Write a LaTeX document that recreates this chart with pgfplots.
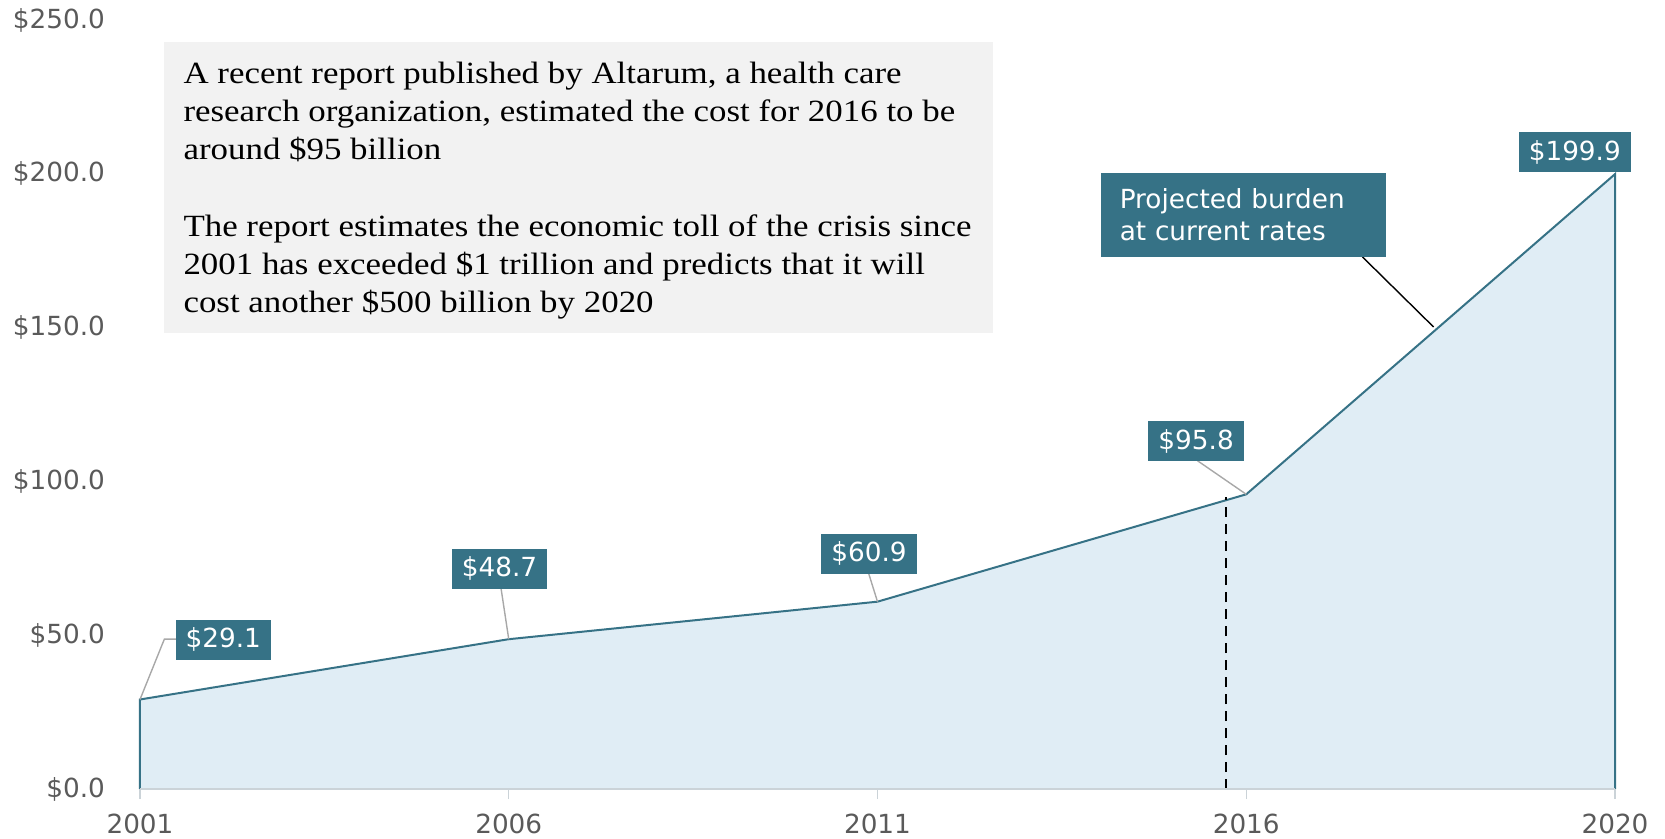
\documentclass[border=0pt]{standalone}
\usepackage{pgfplots}
\pgfplotsset{compat=1.18}
\usepackage{fontspec}
\setmainfont{DejaVu Sans}
\newfontfamily\dv{DejaVu Sans}
\newfontfamily\geo[FakeStretch=1.13]{Liberation Serif}
\definecolor{teal1}{HTML}{367286}
\definecolor{fillc}{HTML}{E0EDF5}
\definecolor{tickgray}{HTML}{5A5A5A}
\definecolor{axgray}{HTML}{CBD3D8}
\definecolor{leadgray}{HTML}{A8A8A8}
\definecolor{boxgray}{HTML}{F2F2F2}
\begin{document}
\begin{tikzpicture}
\begin{axis}[
  scale only axis, width=737.5bp, height=384.5bp,
  xmin=0, xmax=4, ymin=0, ymax=250,
  clip=false, axis on top,
  axis x line*=bottom, axis y line*=left,
  y axis line style={draw=none},
  x axis line style={draw=axgray, line width=1.2bp},
  xtick={0,1,2,3,4},
  xticklabels={2001,2006,2011,2016,2020},
  ytick={0,50,100,150,200,250},
  yticklabels={\$0.0,\$50.0,\$100.0,\$150.0,\$200.0,\$250.0},
  ytick style={draw=none},
  xtick style={draw=axgray, line width=0.6bp},
  tick align=outside,
  major tick length=5bp,
  ticklabel style={font=\dv\fontsize{13.2}{15}\selectfont, text=tickgray},
  yticklabel style={xshift=-9bp},
  xticklabel style={yshift=-4bp},
]
\addplot[draw=none, fill=fillc] coordinates {(0,29.1) (1,48.7) (2,60.9) (3,95.8) (4,199.9)} \closedcycle;
\addplot[draw=teal1, line width=1bp] coordinates {(0,0) (0,29.1) (1,48.7) (2,60.9) (3,95.8) (4,199.9) (4,0)};

% dashed line
\draw[black, line width=1bp, dash pattern=on 5bp off 3.5bp] (axis cs:2.946,0) -- (axis cs:2.946,95);

% annotation box
\fill[boxgray] (axis cs:0.066,242.7) rectangle (axis cs:2.312,148.1);
\begin{scope}[every node/.style={anchor=base west, inner sep=0pt, font=\geo\fontsize{15.5}{18}\selectfont}]
\node at (axis cs:0.117,229.5) {A recent report published by Altarum, a health care};
\node at (axis cs:0.117,217.0) {research organization, estimated the cost for 2016 to be};
\node at (axis cs:0.117,204.6) {around \$95 billion};
\node at (axis cs:0.117,179.7) {The report estimates the economic toll of the crisis since};
\node at (axis cs:0.117,167.3) {2001 has exceeded \$1 trillion and predicts that it will};
\node at (axis cs:0.117,154.9) {cost another \$500 billion by 2020};
\end{scope}

% leaders
\draw[leadgray, line width=0.7bp] (axis cs:0,29.1) -- (axis cs:0.066,48.7) -- (axis cs:0.098,48.7);
\draw[leadgray, line width=0.7bp] (axis cs:1,48.7) -- (axis cs:0.979,65.3);
\draw[leadgray, line width=0.7bp] (axis cs:2,60.9) -- (axis cs:1.976,70.1);
\draw[leadgray, line width=0.7bp] (axis cs:3,95.8) -- (axis cs:2.868,106.7);
\draw[black, line width=0.7bp] (axis cs:3.315,173.0) -- (axis cs:3.508,150.2);

\begin{scope}[every node/.style={fill=teal1, text=white, font=\dv\fontsize{13.2}{15}\selectfont, inner xsep=5bp, inner ysep=0pt, minimum height=20bp, anchor=center}]
\node at (axis cs:0.226,48.5) {\$29.1};
\node at (axis cs:0.975,71.6) {\$48.7};
\node at (axis cs:1.977,76.5) {\$60.9};
\node at (axis cs:2.864,113.1) {\$95.8};
\node at (axis cs:3.891,207.0) {\$199.9};
\end{scope}
\node[fill=teal1, text=white, font=\dv\fontsize{13.2}{16}\selectfont, inner xsep=9.5bp, text width=123.5bp, align=left, minimum height=42bp, anchor=center] at (axis cs:2.992,186.6) {Projected burden\\at current rates};
\end{axis}
\pgfresetboundingbox
\path[use as bounding box] (current axis.south west) ++(-70bp,-25bp) rectangle ++(832.5bp,419.5bp);
\end{tikzpicture}
\end{document}
